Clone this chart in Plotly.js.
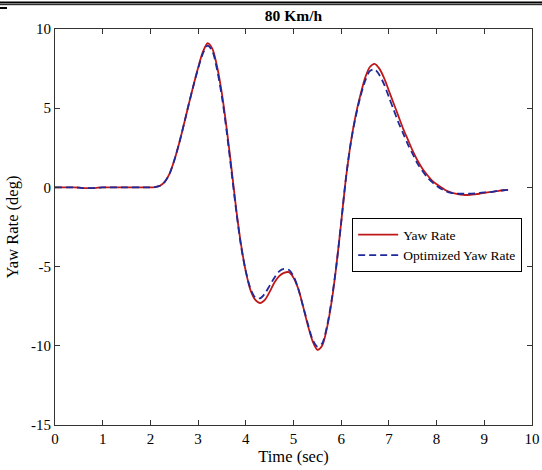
<!DOCTYPE html>
<html><head><meta charset="utf-8">
<script src="https://cdn.plot.ly/plotly-3.0.1.min.js"></script>
<style>body{margin:0;background:#fff}#c{width:542px;height:470px}</style>
</head><body><div id="c"></div>
<script>
var time = [0,0.1,0.2,0.3,0.4,0.5,0.6,0.7,0.8,0.9,1.0,1.1,1.2,1.3,1.4,1.5,1.6,1.7,1.8,1.9,2.0,
2.1,2.2,2.3,2.4,2.5,2.6,2.7,2.8,2.9,3.0,3.1,3.2,3.3,3.4,3.5,3.6,3.7,3.8,3.9,4.0,
4.1,4.2,4.3,4.4,4.5,4.6,4.7,4.8,4.9,5.0,5.1,5.2,5.3,5.4,5.5,5.6,5.7,5.8,5.9,6.0,
6.1,6.2,6.3,6.4,6.5,6.6,6.7,6.8,6.9,7.0,7.1,7.2,7.3,7.4,7.5,7.6,7.7,7.8,7.9,8.0,
8.1,8.2,8.3,8.4,8.5,8.6,8.7,8.8,8.9,9.0,9.1,9.2,9.3,9.4,9.5];
var yawRate = [0,0,0,0,0,-0.01,-0.04,-0.05,-0.04,-0.02,0,0,0,0,0,0,0,0,0,0,0,
0.02,0.1,0.35,0.85,1.7,2.75,3.95,5.2,6.4,7.55,8.55,9.1,8.75,7.6,5.9,3.7,1.2,-1.4,-3.6,-5.3,
-6.5,-7.1,-7.3,-7.1,-6.6,-6.0,-5.6,-5.4,-5.35,-5.7,-6.4,-7.5,-8.7,-9.7,-10.25,-10.0,-8.9,-7.2,-4.9,-2.2,
0.6,2.8,4.5,5.8,6.9,7.6,7.8,7.5,6.9,6.1,5.3,4.5,3.7,3.0,2.3,1.7,1.2,0.8,0.45,0.2,
0.0,-0.2,-0.32,-0.4,-0.45,-0.48,-0.47,-0.44,-0.4,-0.35,-0.3,-0.27,-0.22,-0.18,-0.15];
var optimizedYawRate = [0,0,0,0,0,-0.01,-0.04,-0.05,-0.04,-0.02,0,0,0,0,0,0,0,0,0,0,0,
0.02,0.1,0.35,0.85,1.7,2.75,3.95,5.2,6.4,7.5,8.45,8.95,8.6,7.4,5.7,3.5,1.0,-1.5,-3.7,-5.3,
-6.4,-6.95,-7.0,-6.7,-6.2,-5.7,-5.3,-5.15,-5.2,-5.6,-6.4,-7.5,-8.6,-9.6,-10.05,-9.85,-8.8,-7.1,-4.9,-2.2,
0.6,2.8,4.4,5.7,6.7,7.35,7.45,7.1,6.5,5.7,4.9,4.1,3.4,2.7,2.1,1.5,1.05,0.65,0.35,0.1,
-0.1,-0.25,-0.35,-0.38,-0.4,-0.4,-0.4,-0.38,-0.35,-0.32,-0.3,-0.27,-0.22,-0.18,-0.15];
var xTicks = [0,1,2,3,4,5,6,7,8,9,10];
var xTickText = ['0','1','2','3','4','5','6','7','8','9','10'];
var yTicks = [-15,-10,-5,0,5,10];
var yTickText = ['-15','-10','-5','0','5','10'];

var F = 'Liberation Serif, Times New Roman, serif';
var traces = [
  {x: time, y: yawRate, type:'scatter', mode:'lines', name:'Yaw Rate',
   line:{color:'#c01818', width:1.8, shape:'spline', smoothing:0.8}},
  {x: time, y: optimizedYawRate, type:'scatter', mode:'lines', name:'Optimized Yaw Rate',
   line:{color:'#1f2a9a', width:1.8, dash:'7px,4px', shape:'spline', smoothing:0.8}}
];
var axisCommon = {showgrid:false, zeroline:false, showline:true, linecolor:'#333', linewidth:1,
  mirror:'ticks', ticks:'inside', ticklen:5, tickcolor:'#333', tickfont:{family:F, size:15, color:'#000'}};
var layout = {
  width:542, height:470,
  margin:{l:55, r:10, t:29, b:45},
  paper_bgcolor:'#fff', plot_bgcolor:'#fff',
  font:{family:F, color:'#000'},
  title:{text:'<b>80 Km/h</b>', font:{family:F, size:15.5, color:'#000'}, x:0.5, xref:'paper', y:0.966, yanchor:'middle'},
  xaxis:Object.assign({}, axisCommon, {range:[0,10], tickvals:xTicks, ticktext:xTickText,
    title:{text:'Time (sec)', font:{family:F, size:16.5}, standoff:3}}),
  yaxis:Object.assign({}, axisCommon, {range:[-15,10], tickvals:yTicks, ticktext:yTickText,
    title:{text:'Yaw Rate (deg)', font:{family:F, size:16.5}, standoff:8}}),
  showlegend:true,
  legend:{x:0.623, y:0.522, xanchor:'left', yanchor:'top', bgcolor:'#fff', bordercolor:'#000', borderwidth:1,
    font:{family:F, size:13.5, color:'#000'}, tracegroupgap:0, itemwidth:40},
  shapes:[
    {type:'line', xref:'paper', yref:'paper', x0:-0.1153, x1:1.021, y0:1.0669, y1:1.0669, line:{color:'#000', width:2}},
    {type:'line', xref:'paper', yref:'paper', x0:-0.1153, x1:1.021, y0:1.0614, y1:1.0614, line:{color:'#000', width:1}},
    {type:'rect', xref:'paper', yref:'paper', x0:-0.1153, x1:-0.1006, y0:1.0555, y1:1.0505, fillcolor:'#000', line:{width:0}}
  ]
};
Plotly.newPlot('c', traces, layout, {displayModeBar:false, staticPlot:true});
</script></body></html>
